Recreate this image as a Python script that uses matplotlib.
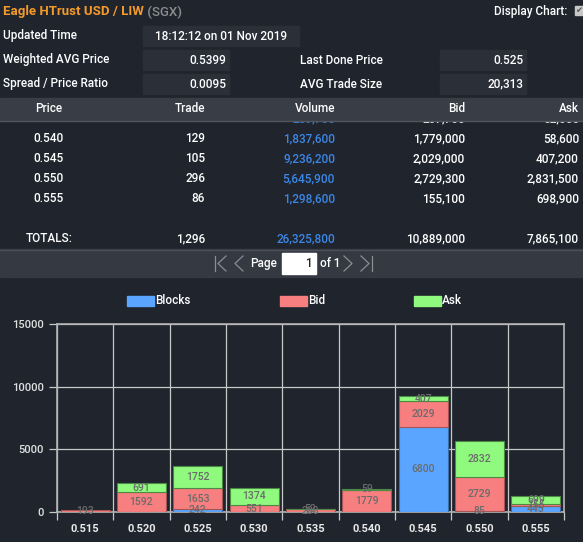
import matplotlib
matplotlib.use("Agg")
import matplotlib.pyplot as plt
from matplotlib.patches import Rectangle
import numpy as np

plt.rcParams["font.family"] = ["Roboto", "DejaVu Sans"]
plt.rcParams["font.weight"] = "medium"

# ---- data ----
prices = ["0.515", "0.520", "0.525", "0.530", "0.535", "0.540", "0.545", "0.550", "0.555"]
blocks = [0, 0, 242, 0, 0, 0, 6800, 85, 445]
bid = [193, 1592, 1653, 551, 208, 1779, 2029, 2729, 155]
ask = [0, 691, 1752, 1374, 52, 59, 407, 2832, 699]

row_price = ["0.535", "0.540", "0.545", "0.550", "0.555"]
row_trade = ["53", "129", "105", "296", "86"]
row_volume = ["259,700", "1,837,600", "9,236,200", "5,645,900", "1,298,600"]
row_bid = ["207,700", "1,779,000", "2,029,000", "2,729,300", "155,100"]
row_ask = ["52,000", "58,600", "407,200", "2,831,500", "698,900"]
totals = ["1,296", "26,325,800", "10,889,000", "7,865,100"]

info_left = [("Updated Time", "18:12:12 on 01 Nov 2019"),
             ("Weighted AVG Price", "0.5399"),
             ("Spread / Price Ratio", "0.0095")]
info_right = [("Last Done Price", "0.525"), ("AVG Trade Size", "20,313")]

BG = "#1f242d"
BOX = "#2a2f38"
HEAD = "#383d46"
WHITE = "#ffffff"
BLUE_TXT = "#3c87e6"
C_BLOCKS = "#5aa5ff"
C_BID = "#f77f7f"
C_ASK = "#8ffa7e"

W, H = 583, 542
fig = plt.figure(figsize=(W / 100, H / 100), dpi=100, facecolor=BG)

# full-figure axes in pixel coordinates for the panel
bg = fig.add_axes([0, 0, 1, 1])
bg.set_xlim(0, W)
bg.set_ylim(H, 0)
bg.axis("off")
bg.set_facecolor(BG)

title = bg.text(3, 12, "Eagle HTrust USD / LIW", color="#f39a2a", fontsize=9.5,
                fontweight="bold", va="center", ha="left")
bg.annotate(" (SGX)", xy=(1, 0.5), xycoords=title, color="#8c8c8c", fontsize=9.5,
            va="center", ha="left")
bg.text(567, 11, "Display Chart:", color=WHITE, fontsize=8.5, va="center", ha="right")
bg.add_patch(Rectangle((575, 6), 8, 9, color="#c8c8c8"))
bg.text(579, 10.5, "✔", color="#555555", fontsize=6, va="center", ha="center")

# info boxes
for i, (lab, val) in enumerate(info_left):
    y = 36 + i * 24
    bg.text(3, y, lab, color=WHITE, fontsize=8.5, va="center")
    if i == 0:
        bg.add_patch(Rectangle((143, y - 10), 156, 20, color=BOX))
        bg.text(221, y, val, color=WHITE, fontsize=8.5, va="center", ha="center")
    else:
        bg.add_patch(Rectangle((143, y - 10), 86, 20, color=BOX))
        bg.text(226, y, val, color=WHITE, fontsize=8.5, va="center", ha="right")
for i, (lab, val) in enumerate(info_right):
    y = 60 + i * 24
    bg.text(300, y, lab, color=WHITE, fontsize=8.5, va="center")
    bg.add_patch(Rectangle((440, y - 10), 86, 20, color=BOX))
    bg.text(523, y, val, color=WHITE, fontsize=8.5, va="center", ha="right")

# table
col_x = [49, 205, 335, 465, 579]
col_ha = ["center", "right", "right", "right", "right"]
rows = list(zip(row_price, row_trade, row_volume, row_bid, row_ask))
for r, row in enumerate(rows):
    y = 119 + r * 20
    for c, txt in enumerate(row):
        bg.text(col_x[c], y, txt, color=BLUE_TXT if c == 2 else WHITE, fontsize=8.5,
                va="center", ha=col_ha[c], zorder=2)

bg.add_patch(Rectangle((0, 98), W, 22, color=HEAD, zorder=3))
bg.plot([0, W], [120.5, 120.5], color="#50555e", lw=1, zorder=4)
for c, txt in enumerate(["Price", "Trade", "Volume", "Bid", "Ask"]):
    bg.text(col_x[c], 109, txt, color=WHITE, fontsize=8.5, va="center",
            ha=col_ha[c], zorder=5)

y_tot = 239
bg.text(26, y_tot, "TOTALS:", color=WHITE, fontsize=8.5, va="center")
for c, txt in enumerate(totals):
    bg.text(col_x[c + 1], y_tot, txt, color=BLUE_TXT if c == 1 else WHITE,
            fontsize=8.5, va="center", ha="right")

# pager
bg.add_patch(Rectangle((0, 249), W, 28, color="#343942", zorder=1))
bg.plot([0, W], [249.5, 249.5], color="#4a4f58", lw=1, zorder=2)
pc = "#8a8d92"
bg.plot([215, 215], [256, 271], color=pc, lw=0.9, zorder=3)
bg.plot([226, 218, 226], [256, 263.5, 271], color=pc, lw=0.9, zorder=3)
bg.plot([243, 235, 243], [256, 263.5, 271], color=pc, lw=0.9, zorder=3)
bg.text(250, 263.5, "Page", color=WHITE, fontsize=8.5, va="center", zorder=3)
bg.add_patch(Rectangle((282, 253), 34, 21, color=WHITE, zorder=3))
bg.text(312, 263.5, "1", color="#222222", fontsize=8.5, va="center", ha="right", zorder=4)
bg.text(320, 263.5, "of 1", color=WHITE, fontsize=8.5, va="center", zorder=3)
bg.plot([344, 352, 344], [256, 263.5, 271], color=pc, lw=0.9, zorder=3)
bg.plot([361, 369, 361], [256, 263.5, 271], color=pc, lw=0.9, zorder=3)
bg.plot([372, 372], [256, 271], color=pc, lw=0.9, zorder=3)

# legend
for lx, name, col in [(127, "Blocks", C_BLOCKS), (280, "Bid", C_BID), (414, "Ask", C_ASK)]:
    bg.add_patch(Rectangle((lx, 296), 27, 10, color=col))
    bg.text(lx + 28, 301, name, color=WHITE, fontsize=8.5, va="center")

# ---- chart ----
ax_l, ax_r, ax_t, ax_b = 57, 564, 324, 512
ax = fig.add_axes([ax_l / W, 1 - ax_b / H, (ax_r - ax_l) / W, (ax_b - ax_t) / H])
ax.set_facecolor(BG)

x = np.arange(len(prices))
blocks = np.array(blocks)
bid = np.array(bid)
ask = np.array(ask)
width = 0.87
series = [(blocks, np.zeros_like(blocks), C_BLOCKS, "#3f6fa8"),
          (bid, blocks, C_BID, "#a65555"),
          (ask, blocks + bid, C_ASK, "#4d8a45")]
for vals, bottom, col, edge in series:
    lws = [0.8 if v > 0 else 0 for v in vals]
    ax.bar(x, vals, width, bottom=bottom, color=col, edgecolor=edge, linewidth=lws, zorder=3)
    for xi, v, b in zip(x, vals, bottom):
        if v > 0:
            ax.text(xi, b + v / 2, f"{v}", color="#6b6b6b", fontsize=7.5,
                    ha="center", va="center", zorder=4)

ax.set_xlim(-0.5, len(prices) - 0.5)
ax.set_ylim(0, 15000)
ax.set_yticks([0, 5000, 10000, 15000])
ax.set_xticks(x)
ax.set_xticklabels(prices)
ax.set_xticks(np.arange(len(prices) + 1) - 0.5, minor=True)
ax.grid(which="minor", axis="x", color="#c8c8c8", lw=0.9, zorder=1)
ax.grid(which="major", axis="y", color="#c8c8c8", lw=0.9, zorder=1)
ax.tick_params(axis="x", which="major", length=0, pad=9, colors="#e8e8e8", labelsize=8)
ax.tick_params(axis="x", which="minor", length=6, color="#c8c8c8", width=0.9)
ax.tick_params(axis="y", length=6, color="#c8c8c8", width=0.9, colors="#e0e0e0",
               labelsize=8)
for lab in ax.get_xticklabels():
    lab.set_fontweight("bold")
for sp in ax.spines.values():
    sp.set_color("#b4b4b4")
    sp.set_linewidth(1.2)

fig.savefig("out.png", dpi=100, facecolor=BG)
